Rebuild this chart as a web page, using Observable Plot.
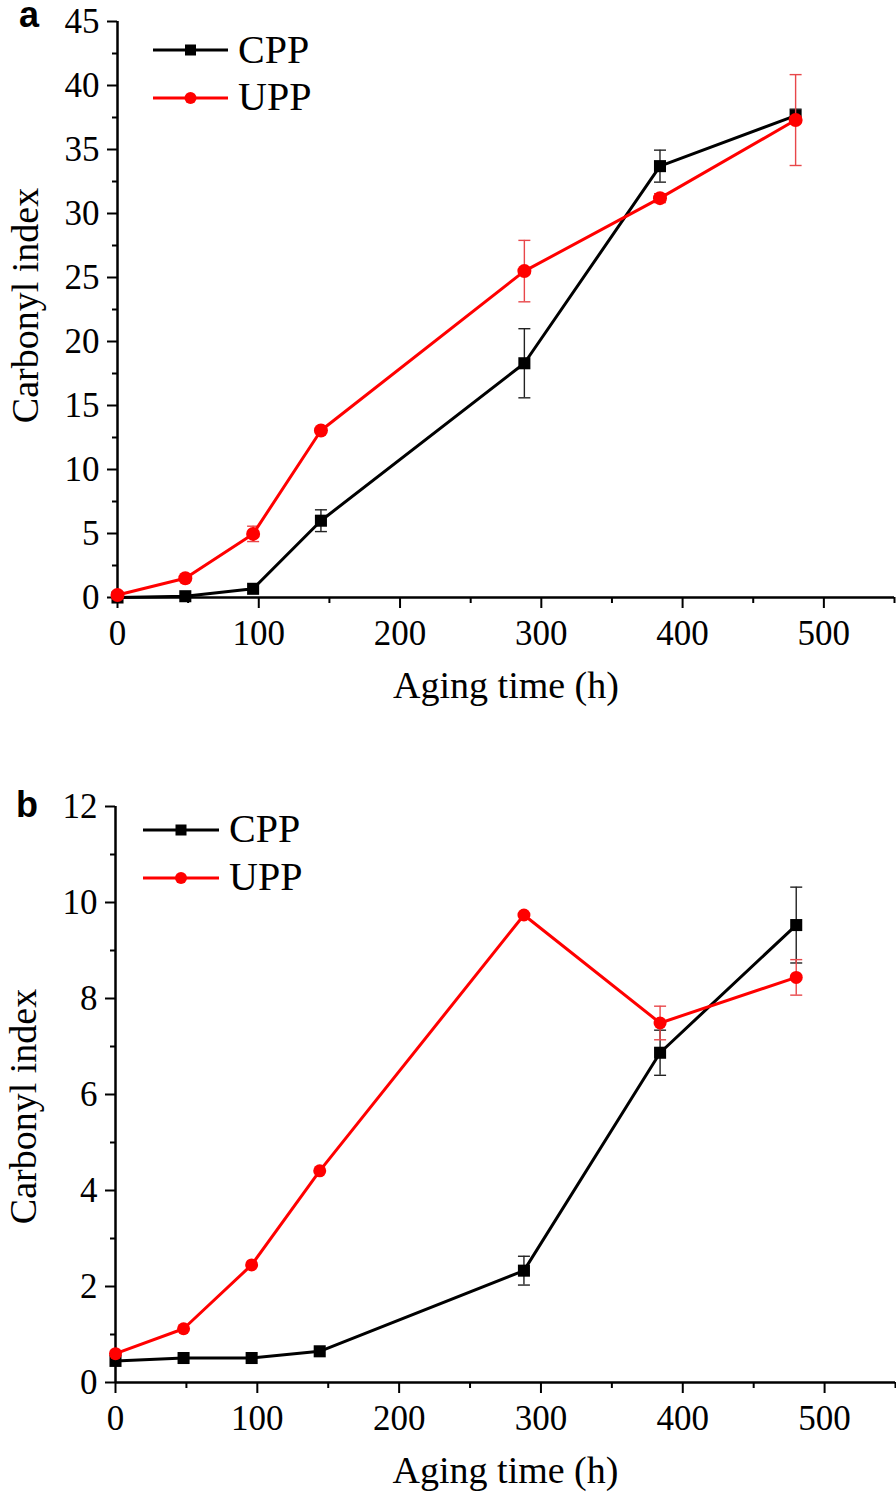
<!DOCTYPE html>
<html><head><meta charset="utf-8">
<script src="https://cdn.jsdelivr.net/npm/d3@7"></script>
<script src="https://cdn.jsdelivr.net/npm/@observablehq/plot@0.6"></script>
<style>
body{margin:0;background:#fff;}
#wrap{position:relative;width:896px;height:1504px;overflow:hidden;background:#fff;}
.panel{position:absolute;left:0;}
#overlay{position:absolute;left:0;top:0;pointer-events:none;}
</style></head><body><div id="wrap"></div>
<script>
// Aging time (h)
const hours = [0, 48, 96, 144, 288, 384, 480];
// Panel a
const cppA    = [0, 0.1, 0.68, 6.0, 18.3, 33.7, 37.65];
const cppAErr = [0, 0, 0, 0.85, 2.7, 1.25, 0.5];
const uppA    = [0.2, 1.5, 4.97, 13.05, 25.5, 31.2, 37.3];
const uppAErr = [0, 0, 0.6, 0, 2.4, 0.35, 3.55];
// Panel b
const cppB    = [0.45, 0.51, 0.51, 0.65, 2.33, 6.87, 9.53];
const cppBErr = [0, 0, 0, 0, 0.3, 0.47, 0.79];
const uppB    = [0.6, 1.12, 2.45, 4.41, 9.74, 7.49, 8.44];
const uppBErr = [0, 0, 0, 0, 0, 0.35, 0.37];
// Ticks
const xTicks = [0, 100, 200, 300, 400, 500];
const xMinor = [50, 150, 250, 350, 450, 550];
const yTicksA = [0, 5, 10, 15, 20, 25, 30, 35, 40, 45];
const yMinorA = [2.5, 7.5, 12.5, 17.5, 22.5, 27.5, 32.5, 37.5, 42.5];
const yTicksB = [0, 2, 4, 6, 8, 10, 12];
const yMinorB = [1, 3, 5, 7, 9, 11];
const seriesNames = ["CPP", "UPP"];
const xLabel = "Aging time (h)";
const yLabel = "Carbonyl index";

const RED = "#ff0000";
const capSymbol = { draw(ctx) { ctx.moveTo(-6, 0); ctx.lineTo(6, 0); } };

function rows(vals, errs) { return hours.map((h, i) => ({h, v: vals[i], e: errs[i]})); }
function caps(data) {
  return data.filter(d => d.e > 0).flatMap(d => [{h: d.h, y: d.v - d.e}, {h: d.h, y: d.v + d.e}]);
}
function seriesMarks(data, color, errColor, symbol, r) {
  const errs = data.filter(d => d.e > 0);
  return [
    Plot.ruleX(errs, {x: "h", y1: d => d.v - d.e, y2: d => d.v + d.e, stroke: errColor, strokeWidth: 1.4}),
    Plot.dot(caps(data), {x: "h", y: "y", symbol: capSymbol, r: 5, stroke: errColor, strokeWidth: 1.4, fill: "none"}),
    Plot.line(data, {x: "h", y: "v", stroke: color, strokeWidth: 3}),
    Plot.dot(data, {x: "h", y: "v", symbol, r, fill: color, stroke: "none"})
  ];
}

function makeChart(o) {
  const cpp = rows(o.cpp, o.cppErr), upp = rows(o.upp, o.uppErr);
  return Plot.plot({
    width: 896, height: o.height,
    marginTop: o.mt, marginBottom: o.mb, marginLeft: o.ml, marginRight: o.mr,
    x: {domain: [0, 550]},
    y: {domain: o.yDomain},
    style: {fontFamily: '"Liberation Serif", "Times New Roman", serif', fontSize: "35px", color: "#000", background: "transparent", overflow: "visible"},
    marks: [
      Plot.axisX(xTicks, {tickSize: 11, tickPadding: 12, strokeWidth: 2, fontSize: 35, label: null}),
      Plot.axisX(xMinor, {tickSize: 6, strokeWidth: 2, tickFormat: () => "", label: null}),
      Plot.axisY(o.yTicks, {tickSize: 10, tickPadding: 8, strokeWidth: 2, fontSize: 35, label: null}),
      Plot.axisY(o.yMinor, {tickSize: 5, strokeWidth: 2, tickFormat: () => "", label: null}),
      Plot.ruleX([0], {strokeWidth: 2.5}),
      Plot.ruleY([o.yDomain[0]], {strokeWidth: 2.5}),
      ...seriesMarks(cpp, "black", "#222", "square", 6.8),
      ...seriesMarks(upp, RED, "#e8474a", "circle", o.cr),
      Plot.text([xLabel], {frameAnchor: "bottom", dy: 100, fontSize: 38, textAnchor: "middle"}),
      Plot.text([yLabel], {frameAnchor: "left", rotate: -90, dx: -92, dy: o.yLabelDy, fontSize: 38, textAnchor: "middle"})
    ]
  });
}

const wrap = document.getElementById("wrap");
const chartA = makeChart({cpp: cppA, cppErr: cppAErr, upp: uppA, uppErr: uppAErr,
  yDomain: [0, 45], yTicks: yTicksA, yMinor: yMinorA, height: 760, mt: 21, mb: 163, ml: 117, mr: 2, yLabelDy: -4, cr: 7});
chartA.classList.add("panel"); chartA.style.top = "0px";
wrap.appendChild(chartA);
const chartB = makeChart({cpp: cppB, cppErr: cppBErr, upp: uppB, uppErr: uppBErr,
  yDomain: [0, 12], yTicks: yTicksB, yMinor: yMinorB, height: 744, mt: 46, mb: 122, ml: 115, mr: 1, yLabelDy: 12, cr: 6.5});
chartB.classList.add("panel"); chartB.style.top = "760px";
wrap.appendChild(chartB);

// Legends and panel letters (overlay)
const ns = "http://www.w3.org/2000/svg";
const ov = document.createElementNS(ns, "svg");
ov.setAttribute("id", "overlay"); ov.setAttribute("width", 896); ov.setAttribute("height", 1504);
wrap.appendChild(ov);
function el(tag, attrs, text) {
  const e = document.createElementNS(ns, tag);
  for (const k in attrs) e.setAttribute(k, attrs[k]);
  if (text != null) e.textContent = text;
  ov.appendChild(e); return e;
}
function legend(x0, x1, xt, items) {
  items.forEach(([name, color, sym, y, base]) => {
    el("line", {x1: x0, x2: x1, y1: y, y2: y, stroke: color, "stroke-width": 3});
    const cx = (x0 + x1) / 2;
    if (sym === "square") el("rect", {x: cx - 5.5, y: y - 5.5, width: 11, height: 11, fill: color});
    else el("circle", {cx, cy: y, r: 6, fill: color});
    el("text", {x: xt, y: base, "font-family": '"Liberation Serif", "Times New Roman", serif', "font-size": 40, fill: "#000"}, name);
  });
}
legend(153, 228, 238, [[seriesNames[0], "black", "square", 50, 63], [seriesNames[1], RED, "circle", 98, 110]]);
legend(143, 219, 229, [[seriesNames[0], "black", "square", 830, 842], [seriesNames[1], RED, "circle", 878, 890]]);
const pl = {"font-family": '"Liberation Sans", Arial, sans-serif', "font-weight": "bold", "font-size": 36, fill: "#000"};
el("text", {...pl, x: 19, y: 27}, "a");
el("text", {...pl, x: 16, y: 817}, "b");
</script></body></html>
